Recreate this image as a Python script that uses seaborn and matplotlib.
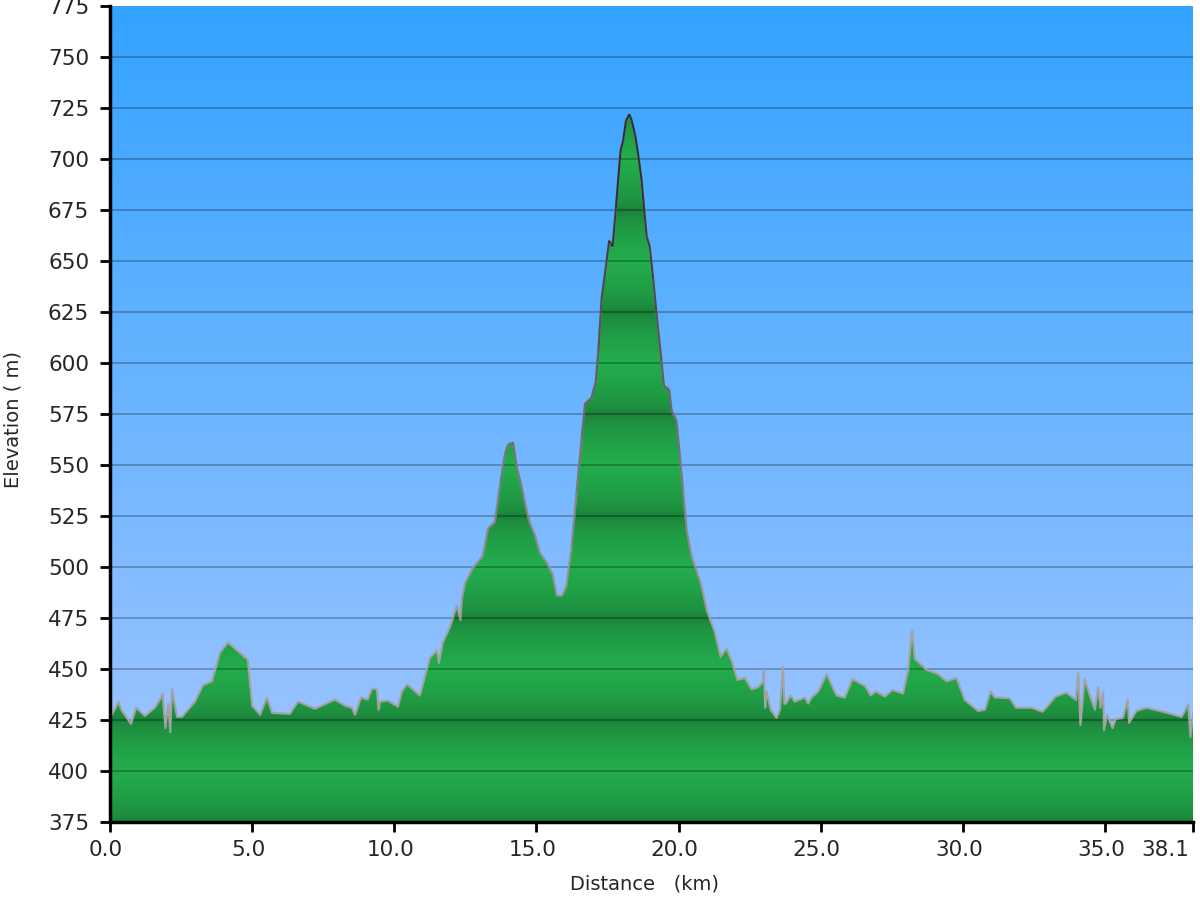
"""Elevation profile: green terrain over sky gradient."""

import numpy as np
import matplotlib
matplotlib.use("Agg")
import matplotlib.pyplot as plt
import matplotlib.transforms as mtransforms
from matplotlib.collections import LineCollection
from matplotlib.colors import to_rgb
from matplotlib.patches import PathPatch
import pandas as pd
import seaborn as sns

# --- data ----------------------------------------------------------------
distance_km = [
    0.0, 0.07, 0.3, 0.4, 0.74, 0.92, 1.23, 1.58, 1.76, 1.85, 1.95, 2.05, 2.12, 2.18,
    2.36, 2.53, 2.99, 3.27, 3.59, 3.87, 4.15, 4.85, 5.0, 5.28, 5.52, 5.7, 6.33, 6.61,
    7.21, 7.91, 8.27, 8.51, 8.62, 8.83, 9.07, 9.22, 9.39, 9.45, 9.5, 9.78, 10.13, 10.27,
    10.45, 10.9, 11.26, 11.5, 11.57, 11.71, 11.96, 12.2, 12.33, 12.38, 12.49, 12.77,
    13.12, 13.3, 13.54, 13.72, 13.89, 14.0, 14.18, 14.31, 14.49, 14.63, 14.77, 14.95,
    15.12, 15.37, 15.58, 15.72, 15.9, 16.06, 16.24, 16.41, 16.59, 16.71, 16.94, 17.09,
    17.18, 17.29, 17.47, 17.56, 17.68, 17.8, 17.96, 18.05, 18.15, 18.27, 18.35, 18.47,
    18.58, 18.7, 18.82, 18.88, 18.99, 19.11, 19.23, 19.4, 19.49, 19.67, 19.76, 19.93,
    20.05, 20.16, 20.28, 20.46, 20.64, 20.81, 20.99, 21.28, 21.48, 21.69, 21.87, 22.07,
    22.34, 22.57, 22.8, 22.96, 23.0, 23.05, 23.1, 23.24, 23.45, 23.57, 23.68, 23.72,
    23.78, 23.94, 24.09, 24.45, 24.56, 24.68, 24.92, 25.21, 25.56, 25.85, 26.12, 26.56,
    26.76, 26.94, 27.26, 27.53, 27.9, 28.08, 28.22, 28.31, 28.73, 29.13, 29.43, 29.78,
    30.07, 30.54, 30.78, 30.98, 31.13, 31.3, 31.66, 31.87, 32.42, 32.81, 33.27, 33.65,
    33.98, 34.06, 34.14, 34.29, 34.47, 34.65, 34.76, 34.85, 34.94, 34.97, 35.08, 35.27,
    35.38, 35.64, 35.8, 35.85, 36.11, 36.46, 37.05, 37.7, 37.93, 38.01, 38.08, 38.1,
]
elevation_m = [
    428, 427.5, 434, 430, 423, 431, 427, 431, 435, 438, 421, 433, 419, 440,
    426.5, 426.5, 434, 442, 444, 458, 463, 454.5, 432, 427.5, 436, 428.5, 428, 434,
    430.5, 435, 432, 431, 427.5, 436, 435, 440.5, 440, 430, 434, 434.5, 431.5, 439,
    442.5, 437, 455.5, 459, 453, 463, 470.5, 481, 474, 484, 492, 499.5,
    505.5, 519, 522, 540, 555, 560, 561, 549, 538.7, 529, 521.5, 515.5,
    507, 502, 496, 486, 486, 491, 510, 536, 563, 580, 583, 591,
    606, 631, 650, 660, 657, 676.5, 704, 709, 718.6, 722, 719, 712,
    702.5, 689.7, 671, 662, 657, 641, 624, 601, 588.7, 587, 576.5, 571.5,
    554, 538, 518.6, 505, 498, 490.7, 479, 468, 456, 460, 454, 444.6,
    445.6, 440, 441, 443.6, 449.5, 431, 439, 430, 426, 430, 451, 433,
    433, 437, 434, 436, 433, 436, 439, 447.5, 437, 436, 445, 441.7,
    437, 439, 436.5, 439.7, 438, 449.5, 469, 455, 449.5, 447.5, 444, 445.6,
    434.8, 429.4, 430, 439, 436, 436, 435.6, 431, 431, 429, 436.5, 438.4,
    434.8, 448, 422.5, 445, 437, 430, 441, 431, 438.7, 420, 427.5, 421,
    425.5, 426, 435, 423.5, 429.4, 431, 429, 426.5, 432.4, 416.7, 425, 428,
]
y_ticks = list(range(375, 776, 25))
x_ticks = [0, 5, 10, 15, 20, 25, 30, 35, 38.1]
x_tick_labels = ["0.0", "5.0", "10.0", "15.0", "20.0", "25.0", "30.0", "35.0", "38.1"]

df = pd.DataFrame({"distance": distance_km, "elevation": elevation_m})
x_max = distance_km[-1]
y_min, y_max = y_ticks[0], y_ticks[-1]

sns.set_style("ticks")
plt.rcParams["font.family"] = ["DejaVu Sans"]

fig = plt.figure(figsize=(12, 9), dpi=100)
ax = fig.add_axes([110 / 1200, 78 / 900, 1083 / 1200, 816 / 900])

# sky: vertical gradient, darker blue at the top
frac = np.linspace(0, 1, 256)[:, None, None]
sky_top = np.array(to_rgb("#33a3ff"))
sky_bot = np.array(to_rgb("#a6c7ff"))
sky = sky_bot + (sky_top - sky_bot) * frac
ax.imshow(sky, extent=[0, x_max, y_min, y_max], origin="lower",
          aspect="auto", interpolation="bilinear", zorder=0)

# terrain: banded green, light at every 50 m, dark half-way between
elev_rows = np.linspace(y_min, y_max, 1601)
t = np.abs((elev_rows % 50) - 25) / 25
t = np.sqrt(t)
g_dark = np.array(to_rgb("#1a7c37"))
g_light = np.array(to_rgb("#23ad4c"))
ground = (g_dark + (g_light - g_dark) * t[:, None])[:, None, :]

fill = ax.fill_between(df["distance"], df["elevation"], y_min,
                       facecolor="none", edgecolor="none")
clip = PathPatch(fill.get_paths()[0], transform=ax.transData,
                 facecolor="none", edgecolor="none")
ax.add_patch(clip)
img = ax.imshow(ground, extent=[0, x_max, y_min, y_max], origin="lower",
                aspect="auto", interpolation="bilinear", zorder=1)
img.set_clip_path(clip)

# grid lines above the terrain
ax.hlines(y_ticks[1:-1], 0, x_max, colors="black", alpha=0.25, lw=1.4, zorder=2.5)

# outline: light grey low down, darker towards the summit
sns.lineplot(data=df, x="distance", y="elevation", color="#a2a2a2", lw=1.5,
             ax=ax, zorder=3)
pts = np.column_stack([distance_km, elevation_m])
segs = np.stack([pts[:-1], pts[1:]], axis=1)
mid = (pts[:-1, 1] + pts[1:, 1]) / 2
alpha = np.clip((mid - 470) / 240, 0, 0.9)
cols = np.zeros((len(mid), 4))
cols[:, :3] = to_rgb("#23232d")
cols[:, 3] = alpha
ax.add_collection(LineCollection(segs, colors=cols, lw=1.5, zorder=3.1))

ax.set_xlim(0, x_max)
ax.set_ylim(y_min, y_max)
ax.set_xticks(x_ticks)
ax.set_xticklabels(x_tick_labels)
ax.set_yticks(y_ticks)
ax.set_xlabel("")
ax.set_ylabel("")
ax.grid(False)

sns.despine(ax=ax)
for side in ("left", "bottom"):
    ax.spines[side].set_linewidth(2.5)
    ax.spines[side].set_color("black")
    ax.spines[side].set_zorder(4)
ax.tick_params(axis="both", direction="out", length=7, width=2, color="black",
               labelsize=15.5, labelcolor="#262626")
ax.tick_params(axis="y", pad=8)
ax.tick_params(axis="x", pad=6)

# labels sit a few pixels left of their ticks; the last one ends at the axis end
for lab in ax.get_xticklabels():
    lab.set_transform(lab.get_transform()
                      + mtransforms.ScaledTranslation(-4 / 100, 0, fig.dpi_scale_trans))
ax.get_xticklabels()[-1].set_horizontalalignment("right")

fig.text(13 / 1200, 1 - 420 / 900, "Elevation ( m)", rotation=90, fontsize=14,
         ha="center", va="center", color="#262626")
fig.text(645 / 1200, 1 - 884 / 900, "Distance   (km)", fontsize=14,
         ha="center", va="center", color="#262626")

fig.savefig("out.png", dpi=100)
plt.close(fig)
